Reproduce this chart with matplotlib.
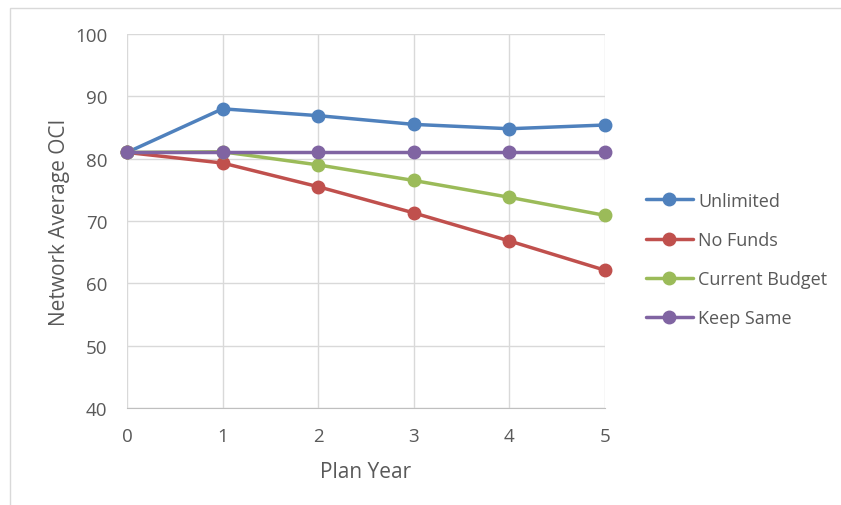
import matplotlib.pyplot as plt
from matplotlib.patches import Rectangle

plt.rcParams['font.family'] = ['Open Sans', 'DejaVu Sans']

years = [0, 1, 2, 3, 4, 5]
unlimited = [81.0, 88.0, 86.9, 85.5, 84.8, 85.4]
no_funds = [81.0, 79.3, 75.5, 71.3, 66.8, 62.1]
current_budget = [81.0, 81.1, 79.0, 76.5, 73.8, 70.9]
keep_same = [81.0, 81.0, 81.0, 81.0, 81.0, 81.0]

names = ['Unlimited', 'No Funds', 'Current Budget', 'Keep Same']
colors = ['#4f81bd', '#c0504d', '#9bbb59', '#8064a2']
text_col = '#595959'

W, H = 841, 506
fig = plt.figure(figsize=(W / 100, H / 100), dpi=100)
# chart area border (bottom/right run off the picture)
fig.patches.append(Rectangle((10 / W, -0.1), 1.0, (H - 9) / H + 0.1, transform=fig.transFigure,
                             fill=False, edgecolor='#d9d9d9', linewidth=1))
ax = fig.add_axes([127 / W, (H - 409) / H, (605 - 127) / W, (409 - 35) / H])

for vals, name, c in zip([unlimited, no_funds, current_budget, keep_same], names, colors):
    ax.plot(years, vals, color=c, linewidth=2.5, marker='o', markersize=9,
            label=name, solid_capstyle='round', clip_on=False)

ax.set_xlim(0, 5)
ax.set_ylim(40, 100)
ax.set_yticks(range(40, 101, 10))
ax.set_xticks(years)
ax.grid(True, color='#d9d9d9', linewidth=1)
ax.set_axisbelow(True)
for s in ['top', 'right', 'left']:
    ax.spines[s].set_visible(False)
ax.spines['bottom'].set_color('#bfbfbf')
ax.tick_params(length=0, labelsize=13.5, colors=text_col)
ax.tick_params(axis='y', pad=14)
ax.tick_params(axis='x', pad=13.5)

ax.set_xlabel('Plan Year', fontsize=15, color=text_col, labelpad=12)
ax.set_ylabel('Network Average OCI', fontsize=15, color=text_col, labelpad=4)

leg = fig.legend(loc='center left', bbox_to_anchor=(646 / W, (H - 260.5) / H), frameon=False,
                 fontsize=13, labelcolor=text_col, handlelength=2.6,
                 handletextpad=0.3, labelspacing=1.18, borderpad=0, borderaxespad=0)

fig.savefig('out.png', dpi=100)
